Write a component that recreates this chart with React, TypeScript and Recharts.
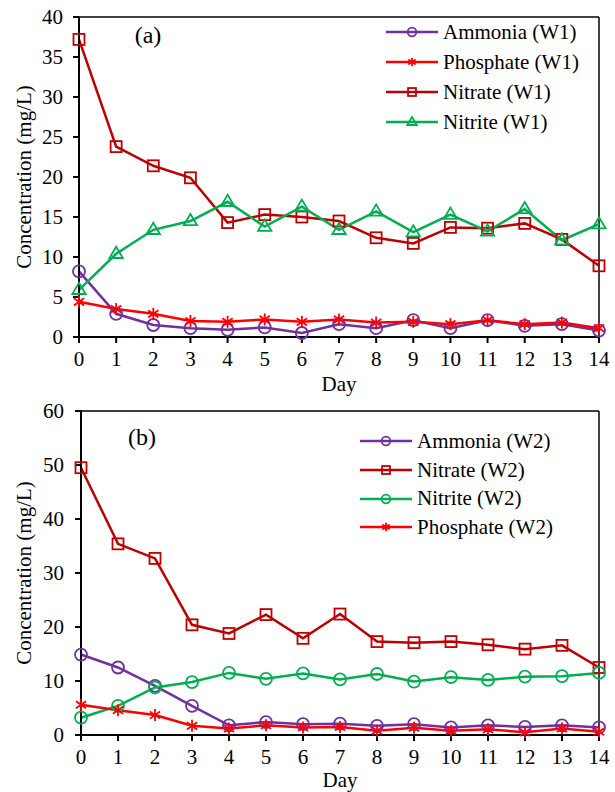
import { LineChart, Line, XAxis, YAxis, ReferenceLine } from 'recharts';

const FONT = '"Liberation Serif", "Times New Roman", serif';

const days = [0, 1, 2, 3, 4, 5, 6, 7, 8, 9, 10, 11, 12, 13, 14];

// (a) W1
const ammoniaW1 = [8.2, 2.9, 1.5, 1.1, 0.9, 1.2, 0.5, 1.6, 1.1, 2.1, 1.1, 2.1, 1.4, 1.6, 0.8];
const phosphateW1 = [4.4, 3.5, 2.9, 2.0, 1.9, 2.2, 1.9, 2.2, 1.8, 1.9, 1.6, 2.1, 1.6, 1.8, 1.1];
const nitrateW1 = [37.2, 23.8, 21.4, 19.9, 14.3, 15.3, 15.0, 14.5, 12.4, 11.7, 13.7, 13.6, 14.2, 12.2, 8.9];
const nitriteW1 = [5.9, 10.4, 13.4, 14.5, 16.9, 13.8, 16.3, 13.4, 15.7, 13.1, 15.3, 13.2, 16.0, 12.1, 14.1];

// (b) W2
const ammoniaW2 = [14.9, 12.5, 9.1, 5.4, 1.8, 2.4, 2.0, 2.1, 1.7, 2.0, 1.4, 1.8, 1.5, 1.8, 1.4];
const nitrateW2 = [49.5, 35.4, 32.7, 20.4, 18.8, 22.3, 17.9, 22.4, 17.3, 17.1, 17.3, 16.7, 15.9, 16.6, 12.5];
const nitriteW2 = [3.2, 5.4, 8.8, 9.8, 11.5, 10.4, 11.4, 10.3, 11.3, 9.9, 10.7, 10.2, 10.8, 10.9, 11.5];
const phosphateW2 = [5.6, 4.6, 3.7, 1.7, 1.2, 1.8, 1.4, 1.5, 0.8, 1.35, 0.8, 1.05, 0.5, 1.2, 0.6];

const yTicksA = [0, 5, 10, 15, 20, 25, 30, 35, 40];
const yTicksB = [0, 10, 20, 30, 40, 50, 60];

const PURPLE = '#7030A0';
const RED = '#FF0000';
const DARKRED = '#C00000';
const GREEN = '#00B050';

type Shape = 'circle' | 'square' | 'triangle' | 'star';
type Series = { key: string; name: string; values: number[]; color: string; shape: Shape };

const seriesA: Series[] = [
  { key: 'ammonia', name: 'Ammonia (W1)', values: ammoniaW1, color: PURPLE, shape: 'circle' },
  { key: 'phosphate', name: 'Phosphate (W1)', values: phosphateW1, color: RED, shape: 'star' },
  { key: 'nitrate', name: 'Nitrate (W1)', values: nitrateW1, color: DARKRED, shape: 'square' },
  { key: 'nitrite', name: 'Nitrite (W1)', values: nitriteW1, color: GREEN, shape: 'triangle' },
];

const seriesB: Series[] = [
  { key: 'ammonia', name: 'Ammonia (W2)', values: ammoniaW2, color: PURPLE, shape: 'circle' },
  { key: 'nitrate', name: 'Nitrate (W2)', values: nitrateW2, color: DARKRED, shape: 'square' },
  { key: 'nitrite', name: 'Nitrite (W2)', values: nitriteW2, color: GREEN, shape: 'circle' },
  { key: 'phosphate', name: 'Phosphate (W2)', values: phosphateW2, color: RED, shape: 'star' },
];

function toRows(series: Series[]) {
  return days.map((d, i) => {
    const row: any = { day: d };
    series.forEach(s => { row[s.key] = s.values[i]; });
    return row;
  });
}

function Marker({ cx, cy, shape, color, s = 1 }: { cx: number; cy: number; shape: Shape; color: string; s?: number }) {
  if (cx == null || cy == null) return null;
  const sw = 1.8;
  if (shape === 'circle') {
    return <circle cx={cx} cy={cy} r={6 * s} fill="none" stroke={color} strokeWidth={sw} />;
  }
  if (shape === 'square') {
    const h = 5.5 * s;
    return <rect x={cx - h} y={cy - h} width={2 * h} height={2 * h} fill="none" stroke={color} strokeWidth={sw} />;
  }
  if (shape === 'triangle') {
    const r = 7 * s;
    const pts = `${cx},${cy - r} ${cx + r * 0.95},${cy + r * 0.6} ${cx - r * 0.95},${cy + r * 0.6}`;
    return <polygon points={pts} fill="none" stroke={color} strokeWidth={sw} />;
  }
  const r = 6 * s;
  return (
    <g stroke={color} strokeWidth={sw}>
      <line x1={cx} y1={cy - r} x2={cx} y2={cy + r} />
      <line x1={cx - r * 0.85} y1={cy - r * 0.6} x2={cx + r * 0.85} y2={cy + r * 0.6} />
      <line x1={cx - r * 0.85} y1={cy + r * 0.6} x2={cx + r * 0.85} y2={cy - r * 0.6} />
    </g>
  );
}

// legend is drawn outside the chart so it doesn't shrink the plot area
function LegendList({ series, rowH, left, top }: { series: Series[]; rowH: number; left: number; top: number }) {
  return (
    <div style={{ position: 'absolute', left, top, fontFamily: FONT, fontSize: 21, color: '#000' }}>
      {series.map(s => (
        <div key={s.key} style={{ display: 'flex', alignItems: 'center', height: rowH, whiteSpace: 'nowrap' }}>
          <svg width={54} height={16} style={{ display: 'block' }}>
            <line x1={0} y1={8} x2={52} y2={8} stroke={s.color} strokeWidth={2.5} />
            <Marker cx={26} cy={8} shape={s.shape} color={s.color} s={0.72} />
          </svg>
          <span style={{ marginLeft: 3 }}>{s.name}</span>
        </div>
      ))}
    </div>
  );
}

const tickStyle = { fill: '#000', fontSize: 21, fontFamily: FONT };
const lineStyle = { stroke: '#000', strokeWidth: 2 };

function Panel({ series, yMax, yTicks, height, margin, yAxisWidth, xTickMargin, yTickMargin, xAxisHeight, dayOffset }: any) {
  return (
    <LineChart width={615} height={height} data={toRows(series)} margin={margin}>
      <XAxis
        dataKey="day"
        type="number"
        domain={[0, 14]}
        ticks={days}
        interval={0}
        tick={tickStyle}
        tickLine={lineStyle}
        axisLine={lineStyle}
        tickSize={6}
        tickMargin={xTickMargin}
        height={xAxisHeight}
        label={{ value: 'Day', position: 'insideBottom', offset: dayOffset, style: { fill: '#000', fontSize: 21, fontFamily: FONT } }}
      />
      <YAxis
        type="number"
        domain={[0, yMax]}
        ticks={yTicks}
        interval={0}
        tick={tickStyle}
        tickLine={lineStyle}
        axisLine={lineStyle}
        tickSize={6}
        tickMargin={yTickMargin}
        width={yAxisWidth}
        label={{
          value: 'Concentration (mg/L)',
          angle: -90,
          position: 'insideLeft',
          offset: 24,
          style: { textAnchor: 'middle', fill: '#000', fontSize: 21, fontFamily: FONT },
        }}
      />
      <ReferenceLine y={yMax} stroke="#000" strokeWidth={1.5} />
      <ReferenceLine x={14} stroke="#000" strokeWidth={1.5} />
      {series.map((s: Series) => (
        <Line
          key={s.key}
          dataKey={s.key}
          name={s.name}
          type="linear"
          stroke={s.color}
          strokeWidth={2.5}
          isAnimationActive={false}
          dot={(p: any) => <Marker key={`${s.key}-${p.index}`} cx={p.cx} cy={p.cy} shape={s.shape} color={s.color} />}
          activeDot={false}
        />
      ))}
    </LineChart>
  );
}

export default function App() {
  return (
    <div style={{ position: 'absolute', left: 0, top: 0, width: 615, height: 792, background: '#fff', fontFamily: FONT }}>
      <div style={{ position: 'absolute', left: 0, top: 0 }}>
        <Panel
          series={seriesA}
          yMax={40}
          yTicks={yTicksA}
          height={400}
          margin={{ top: 17, right: 16, bottom: 3, left: 0 }}
          yAxisWidth={79}
          xTickMargin={8}
          yTickMargin={10}
          xAxisHeight={60}
          dayOffset={6}
        />
      </div>
      <div style={{ position: 'absolute', left: 0, top: 400 }}>
        <Panel
          series={seriesB}
          yMax={60}
          yTicks={yTicksB}
          height={392}
          margin={{ top: 11, right: 16, bottom: 3, left: 0 }}
          yAxisWidth={81}
          xTickMargin={8}
          yTickMargin={11}
          xAxisHeight={54}
          dayOffset={2}
        />
      </div>
      <LegendList series={seriesA} rowH={30} left={386} top={17} />
      <LegendList series={seriesB} rowH={28.7} left={360} top={427} />
      <svg width={615} height={792} style={{ position: 'absolute', left: 0, top: 0, pointerEvents: 'none' }}>
        <text x={148} y={43} textAnchor="middle" fontSize={24} fontFamily={FONT} fill="#000">(a)</text>
        <text x={142} y={445} textAnchor="middle" fontSize={24} fontFamily={FONT} fill="#000">(b)</text>
      </svg>
    </div>
  );
}
